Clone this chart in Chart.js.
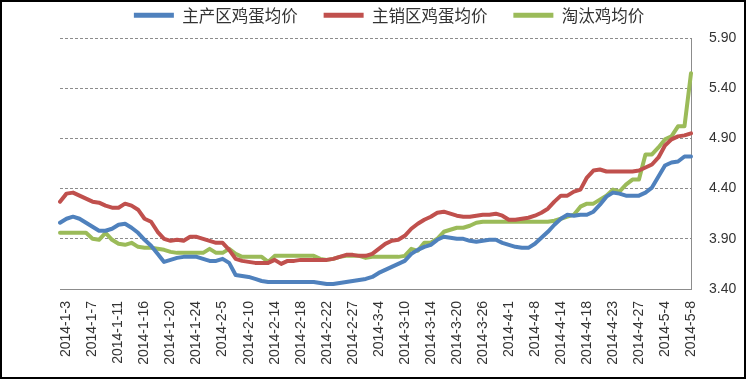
<!DOCTYPE html>
<html><head><meta charset="utf-8">
<style>html,body{margin:0;padding:0;background:#fff;overflow:hidden}canvas{display:block}</style>
<script src="https://cdn.jsdelivr.net/npm/chart.js@4"></script>
</head><body>
<canvas id="c" width="746" height="379"></canvas>
<script>
const categories = [
'2014-1-2','2014-1-3','2014-1-4','2014-1-5','2014-1-6','2014-1-7','2014-1-8','2014-1-9','2014-1-10','2014-1-11',
'2014-1-13','2014-1-14','2014-1-15','2014-1-16','2014-1-17','2014-1-18','2014-1-19','2014-1-20','2014-1-21','2014-1-22',
'2014-1-23','2014-1-24','2014-1-27','2014-1-28','2014-2-4','2014-2-5','2014-2-7','2014-2-8','2014-2-9','2014-2-10',
'2014-2-11','2014-2-12','2014-2-13','2014-2-14','2014-2-15','2014-2-16','2014-2-17','2014-2-18','2014-2-19','2014-2-20',
'2014-2-21','2014-2-22','2014-2-24','2014-2-25','2014-2-26','2014-2-27','2014-2-28','2014-3-1','2014-3-3','2014-3-4',
'2014-3-5','2014-3-6','2014-3-7','2014-3-10','2014-3-11','2014-3-12','2014-3-13','2014-3-14','2014-3-17','2014-3-18',
'2014-3-19','2014-3-20','2014-3-21','2014-3-24','2014-3-25','2014-3-26','2014-3-27','2014-3-28','2014-3-31','2014-4-1',
'2014-4-2','2014-4-3','2014-4-7','2014-4-8','2014-4-9','2014-4-10','2014-4-11','2014-4-14','2014-4-15','2014-4-16',
'2014-4-17','2014-4-18','2014-4-20','2014-4-21','2014-4-22','2014-4-23','2014-4-24','2014-4-25','2014-4-26','2014-4-27',
'2014-4-28','2014-4-29','2014-4-30','2014-5-4','2014-5-5','2014-5-6','2014-5-7','2014-5-8'];

const mainProduceAvg = [
4.06,4.10,4.12,4.10,4.06,4.02,3.98,3.98,4.00,4.04,
4.05,4.01,3.96,3.89,3.83,3.75,3.67,3.69,3.71,3.72,
3.72,3.72,3.70,3.68,3.68,3.70,3.66,3.54,3.53,3.52,
3.50,3.48,3.47,3.47,3.47,3.47,3.47,3.47,3.47,3.47,3.46,
3.45,3.45,3.46,3.47,3.48,3.49,3.50,3.52,3.56,3.59,
3.62,3.65,3.68,3.75,3.79,3.82,3.84,3.89,3.92,3.91,
3.90,3.90,3.88,3.87,3.88,3.89,3.89,3.86,3.84,3.82,
3.81,3.81,3.85,3.91,3.97,4.04,4.10,4.14,4.13,4.14,
4.14,4.17,4.24,4.32,4.36,4.35,4.33,4.33,4.33,4.36,
4.41,4.52,4.63,4.66,4.67,4.72,4.72];

const mainSalesAvg = [
4.27,4.35,4.36,4.33,4.30,4.27,4.26,4.23,4.21,4.21,
4.25,4.23,4.19,4.10,4.07,3.97,3.90,3.88,3.89,3.88,
3.92,3.92,3.90,3.88,3.86,3.86,3.79,3.70,3.68,3.67,
3.66,3.66,3.66,3.69,3.65,3.68,3.68,3.69,3.69,3.69,3.69,
3.69,3.70,3.72,3.74,3.74,3.73,3.73,3.75,3.80,3.85,
3.88,3.89,3.93,4.00,4.05,4.09,4.12,4.16,4.17,4.15,
4.13,4.12,4.12,4.13,4.14,4.14,4.15,4.13,4.09,4.09,
4.10,4.11,4.13,4.16,4.20,4.27,4.33,4.33,4.37,4.39,
4.51,4.58,4.59,4.57,4.57,4.57,4.57,4.57,4.58,4.61,
4.64,4.71,4.83,4.89,4.92,4.93,4.95];

const cullHenAvg = [
3.96,3.96,3.96,3.96,3.96,3.90,3.89,3.96,3.89,3.85,
3.84,3.86,3.82,3.81,3.81,3.80,3.79,3.77,3.76,3.76,
3.76,3.76,3.76,3.80,3.76,3.76,3.80,3.75,3.72,3.72,
3.72,3.72,3.67,3.73,3.73,3.73,3.73,3.73,3.73,3.73,3.70,
3.69,3.70,3.72,3.73,3.73,3.73,3.71,3.72,3.72,3.72,
3.72,3.72,3.73,3.80,3.78,3.86,3.86,3.90,3.97,3.99,
4.01,4.01,4.03,4.06,4.07,4.07,4.07,4.07,4.07,4.07,
4.07,4.07,4.07,4.07,4.07,4.08,4.10,4.12,4.14,4.22,
4.25,4.25,4.29,4.33,4.39,4.37,4.44,4.49,4.49,4.74,
4.74,4.81,4.89,4.92,5.02,5.02,5.55];

const yTickValues = [3.4, 3.9, 4.4, 4.9, 5.4, 5.9];
const seriesNames = ['主产区鸡蛋均价', '主销区鸡蛋均价', '淘汰鸡均价'];
const seriesColors = ['#4F81BD', '#C0504D', '#9BBB59'];
const labelEvery = 4, labelStart = 1;

const frame = {
  id: 'frame',
  beforeDraw(chart) {
    const c = chart.ctx; c.save(); c.fillStyle = '#fff'; c.fillRect(0, 0, chart.width, chart.height); c.restore();
  },
  afterDraw(chart) {
    const c = chart.ctx; c.save(); c.strokeStyle = '#000'; c.lineWidth = 2;
    c.strokeRect(1, 1, chart.width - 2, chart.height - 2); c.restore();
  }
};
const legendShift = {
  id: 'legendShift',
  afterLayout(chart) {
    const l = chart.legend; if (!l) return;
    l.left -= 9; l.right -= 9; l.top -= 19;
  }
};

const mk = (i, data) => ({
  label: seriesNames[i], data,
  borderColor: seriesColors[i], backgroundColor: seriesColors[i],
  borderWidth: 4, pointRadius: 0, pointHoverRadius: 0, tension: 0,
  borderJoinStyle: 'round', borderCapStyle: 'round', fill: false
});

new Chart(document.getElementById('c'), {
  type: 'line',
  data: { labels: categories, datasets: [mk(0, mainProduceAvg), mk(1, mainSalesAvg), mk(2, cullHenAvg)] },
  plugins: [frame, legendShift],
  options: {
    responsive: false, animation: false, devicePixelRatio: 1,
    layout: { padding: { left: 60, right: 10, top: 0, bottom: 14 } },
    plugins: {
      tooltip: { enabled: false },
      legend: {
        position: 'top', maxHeight: 38,
        labels: {
          usePointStyle: true, pointStyle: 'line', pointStyleWidth: 40, padding: 26,
          color: '#333', font: { family: '"Noto Sans CJK SC", sans-serif', size: 16.5 },
          generateLabels(chart) {
            const items = Chart.defaults.plugins.legend.labels.generateLabels(chart);
            items.forEach(it => { it.lineWidth = 5; it.pointStyle = 'line'; });
            return items;
          }
        }
      }
    },
    scales: {
      x: {
        type: 'category',
        afterFit(axis) { axis.height = 76; },
        grid: { display: false, drawTicks: false },
        border: { display: true, color: '#8c8c8c', width: 1 },
        ticks: {
          autoSkip: false, maxRotation: 90, minRotation: 90, padding: 12,
          color: '#333', font: { family: '"Liberation Sans", Arial, sans-serif', size: 14 },
          callback(v, i) { return (i % labelEvery === labelStart) ? categories[i] : ''; }
        }
      },
      y: {
        position: 'right', min: yTickValues[0], max: yTickValues[yTickValues.length - 1],
        afterBuildTicks(axis) { axis.ticks = yTickValues.map(v => ({ value: v })); },
        afterFit(axis) { axis.width = 45; },
        grid: { color: '#8c8c8c', lineWidth: 1, drawTicks: false },
        border: { display: true, color: '#8c8c8c', width: 1, dash: [3, 2] },
        ticks: {
          padding: 18, color: '#333',
          font: { family: '"Liberation Sans", Arial, sans-serif', size: 14 },
          callback(v) { return Number(v).toFixed(2); }
        }
      }
    }
  }
});
</script>
</body></html>
